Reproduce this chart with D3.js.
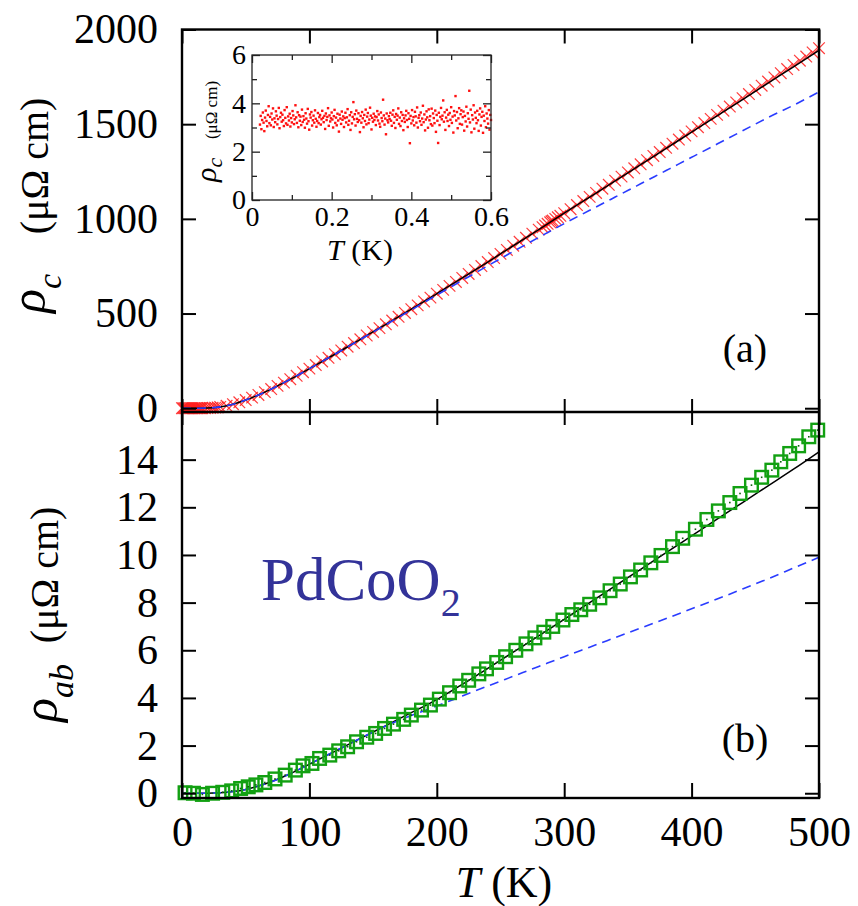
<!DOCTYPE html>
<html><head><meta charset="utf-8">
<script src="https://cdn.jsdelivr.net/npm/d3@7"></script>
<style>
body{margin:0;background:#fff}
svg{display:block;font-family:'Liberation Serif',serif}
svg text{font-family:'Liberation Serif',serif !important;fill:#000}
</style>
</head><body>
<svg id="c" width="858" height="906"></svg>
<script>
// ---------- data ----------
const xTicks = [0,100,200,300,400,500];
const yTicksA = [0,500,1000,1500,2000];
const yTicksB = [0,2,4,6,8,10,12,14];
const insetXTicks = [0,0.2,0.4,0.6];
const insetXMinor = [0.1,0.3,0.5];
const insetYTicks = [0,2,4,6];
const insetYMinor = [1,3,5];

// (a) rho_c data (red crosses)
const tempA = [0,1,2,3,4,5,6,7,8,9,10,11,12,13,14,15,16,18,20,22,24,26,28,30,35,40,45,50,55,60,65,70,75,80,85,90,95,100,105,110,115,120,125,130,135,140,145,150,155,160,165,170,175,180,185,190,195,200,205,210,215,220,225,230,235,240,245,250,255,260,265,270,275,280,283,285,287,289,290,291,293,295,297,300,305,310,315,320,325,330,335,340,345,350,355,360,365,370,375,380,385,390,395,400,405,410,415,420,425,430,435,440,445,450,455,460,465,470,475,480,485,490,495,500];
const rhoC = [0,0,0,0,0,0,0,0,0,0,0,0,0,0,0,0,0,0,1,1,2,3,4,7,13,21,31,43,56,70,85,101,118,135,153,171,190,209,228,247,266,285,305,325,344,364,384,403,423,443,463,483,503,523,543,564,584,605,625,646,667,688,709,730,751,772,793,815,836,858,879,900,922,943,956,965,974,982,987,991,1000,1008,1016,1030,1051,1073,1094,1116,1137,1159,1180,1202,1223,1245,1267,1288,1310,1332,1353,1375,1397,1419,1440,1462,1484,1506,1528,1549,1571,1593,1615,1637,1659,1681,1703,1725,1747,1769,1791,1813,1835,1857,1879,1901];
// (a) fits
const fitTempA = [0,10,20,30,40,50,60,70,80,90,100,120,140,160,180,200,220,240,260,280,300,320,340,360,380,400,420,440,460,480,500];
const fitBlackA = [0,0,1,7,21,43,70,101,135,171,209,285,364,443,523,605,688,772,858,943,1030,1115,1200,1286,1372,1458,1544,1630,1717,1803,1890];
const fitBlueA  = [0,0,1,7,21,43,70,101,135,171,209,285,363,441,519,598,675,752,828,902,975,1045,1115,1185,1255,1325,1395,1465,1535,1600,1670];

// (b) rho_ab data (green squares)
const tempB = [2.4,9,16,24,32,39,46,52,58,65,73,81,89,95,102,108,116,123,130,137,145,152,159,166,174,180,188,195,202,210,218,225,233,239,247,254,262,270,277,284,291,299,306,313,320,328,336,344,352,360,368,376,385,393,403,412,421,430,438,447,455,463,470,477,484,492,499];
const rhoAB = [0.02,0.0,-0.05,0.0,0.04,0.1,0.2,0.27,0.35,0.45,0.6,0.76,0.97,1.15,1.25,1.46,1.6,1.78,1.95,2.16,2.35,2.51,2.72,2.9,3.1,3.28,3.49,3.7,3.95,4.22,4.5,4.74,5.01,5.22,5.49,5.73,6.0,6.27,6.52,6.76,7.0,7.27,7.5,7.7,7.93,8.2,8.5,8.78,9.08,9.37,9.67,9.98,10.35,10.7,11.08,11.49,11.85,12.2,12.58,12.93,13.26,13.56,13.91,14.26,14.58,14.96,15.24];
// (b) fits
const fitTempB = [0,20,30,40,50,60,70,80,90,100,120,140,160,180,200,220,240,260,280,300,320,340,360,380,400,420,440,460,480,500];
const fitBlackB = [0,0,0.02,0.07,0.16,0.3,0.48,0.7,0.95,1.22,1.76,2.3,2.84,3.38,3.93,4.57,5.24,5.92,6.6,7.3,8.0,8.7,9.4,10.1,10.8,11.5,12.2,12.9,13.6,14.33];
const fitBlueB  = [0,0,0.02,0.07,0.16,0.3,0.48,0.7,0.95,1.22,1.76,2.3,2.82,3.26,3.66,4.08,4.5,4.91,5.32,5.73,6.13,6.53,6.93,7.33,7.74,8.15,8.57,9.0,9.45,9.9];

// inset: rho_c at low T (0.02 .. 0.6 K, evenly sampled)
const insetTStart = 0.02, insetTEnd = 0.6;
const insetRho = [
3.12,3.48,2.93,3.31,3.62,3.20,2.85,3.41,3.70,3.27,3.05,3.52,3.88,3.18,3.44,3.09,3.58,3.33,3.79,3.02,
3.38,3.22,3.67,3.49,3.13,3.35,3.81,2.97,3.43,3.61,3.24,3.53,3.30,3.06,3.72,3.40,3.17,3.84,3.11,3.46,
3.29,3.57,3.04,3.39,3.21,3.68,3.50,3.14,3.34,3.92,3.42,3.19,3.63,3.01,3.51,3.28,3.45,3.10,3.74,3.23,
3.47,3.32,2.99,3.59,3.37,3.16,3.77,3.26,2.91,3.54,3.41,3.64,3.08,3.30,3.49,3.20,3.71,3.36,3.03,3.27,
3.60,3.18,3.43,3.52,3.12,3.34,3.69,3.40,3.22,3.48,2.94,3.58,3.31,3.44,3.80,3.07,3.50,3.25,3.38,3.62,
3.33,3.00,3.47,3.73,3.19,3.41,3.09,3.57,3.29,2.83,3.53,3.37,3.15,3.66,3.32,3.46,3.02,3.39,3.61,3.21,
3.42,3.76,3.11,3.28,3.51,2.90,3.63,3.17,3.44,4.05,3.34,3.55,3.08,3.70,3.36,3.23,3.59,3.30,2.81,3.48,
3.20,3.64,3.38,3.01,3.52,3.27,3.74,3.13,3.45,3.60,3.18,3.33,3.82,3.49,2.92,3.40,3.24,3.57,3.31,3.46,
3.10,3.43,3.68,3.29,3.54,3.16,3.03,3.62,3.39,3.26,4.15,3.50,3.12,3.37,2.72,3.58,3.30,3.21,3.47,3.35,
3.61,3.28,3.07,3.53,3.71,3.19,3.44,2.98,3.56,3.32,3.49,3.79,3.15,3.41,3.06,3.63,3.27,3.52,2.89,3.38,
3.23,3.50,3.69,3.31,3.02,3.59,3.36,2.35,3.48,3.17,3.72,3.29,3.43,3.09,3.65,3.46,3.20,3.83,3.00,3.40,
3.51,3.26,3.62,3.11,3.37,3.90,3.22,3.54,2.88,3.33,3.67,3.42,2.99,3.75,3.30,3.47,3.14,3.78,3.08,3.58,
3.39,3.18,3.70,2.82,3.52,3.28,2.36,3.61,3.10,3.44,3.81,3.34,3.49,4.12,3.24,3.63,2.90,3.41,3.73,3.27,
3.53,3.06,3.60,3.32,3.84,3.19,3.45,2.79,3.68,3.50,4.30,3.29,3.64,2.97,3.38,3.80,3.15,3.55,3.71,3.12,
3.43,3.66,2.87,3.48,3.25,3.86,3.04,3.59,3.36,4.52,3.21,3.74,2.80,3.51,3.33,3.92,2.95,3.62,3.40,3.18,
3.69,3.30,2.86,3.54,3.79,3.08,3.44,3.65,2.78,3.49,3.27,3.88,3.01,3.58,3.37,3.16,3.72,2.91,3.52,3.31
];

// ---------- drawing ----------
const FONT = "'Liberation Serif', 'Times New Roman', serif";
const svg = d3.select("#c");
const x = d3.scaleLinear().domain([0,500]).range([182,819]);
const yA = d3.scaleLinear().domain([-20,2000]).range([412,29.5]);
const yB = d3.scaleLinear().domain([-0.2,16]).range([798,412]);

const RED = "#ff1a1a", GREEN = "#12a012", BLUE = "#2a3cff";

function styleAxis(g, fs){
  g.attr("font-family", null);
  g.select(".domain").remove();
  g.selectAll(".tick line").attr("stroke","#000").attr("stroke-width",2);
  g.selectAll(".tick text").style("font-size",fs+"px").style("fill","#000")
    .style("font-family",FONT);
}

const lineA = (arr)=> d3.line().x((d,i)=>x(fitTempA[i])).y(d=>yA(d)).curve(d3.curveMonotoneX)(arr);
const lineB = (arr)=> d3.line().x((d,i)=>x(fitTempB[i])).y(d=>yB(d)).curve(d3.curveMonotoneX)(arr);

// crosses (a)
const gA = svg.append("g");
gA.selectAll("path.cross").data(tempA).join("path")
  .attr("d",(t,i)=>{const cx=x(t), cy=yA(rhoC[i]), s=5.8;
    return `M${cx-s},${cy-s}L${cx+s},${cy+s}M${cx-s},${cy+s}L${cx+s},${cy-s}`;})
  .attr("stroke",RED).attr("stroke-width",1.2).attr("fill","none").attr("stroke-opacity",0.85);
gA.append("path").attr("d",lineA(fitBlackA)).attr("fill","none").attr("stroke","#000").attr("stroke-width",1.5);
gA.append("path").attr("d",lineA(fitBlueA)).attr("fill","none").attr("stroke",BLUE).attr("stroke-width",1.6).attr("stroke-dasharray","9,6");

// (b)
const gB = svg.append("g");
gB.append("path").attr("d",lineB(fitBlackB)).attr("fill","none").attr("stroke","#000").attr("stroke-width",1.5);
gB.append("path").attr("d",lineB(fitBlueB)).attr("fill","none").attr("stroke",BLUE).attr("stroke-width",1.6).attr("stroke-dasharray","9,6");
gB.selectAll("rect.sq").data(tempB).join("rect")
  .attr("x",t=>x(t)-6.3).attr("y",(t,i)=>yB(rhoAB[i])-6.3).attr("width",12.6).attr("height",12.6)
  .attr("fill","none").attr("stroke",GREEN).attr("stroke-width",2.4);
gB.selectAll("rect.dot").data(tempB).join("rect")
  .attr("x",t=>x(t)-0.8).attr("y",(t,i)=>yB(rhoAB[i])-0.8).attr("width",1.6).attr("height",1.6)
  .attr("fill","#0a600a");

// frame
svg.append("rect").attr("x",182).attr("y",29.5).attr("width",637).attr("height",768.5)
  .attr("fill","none").attr("stroke","#000").attr("stroke-width",2.4);
svg.append("line").attr("x1",182).attr("x2",819).attr("y1",412).attr("y2",412)
  .attr("stroke","#000").attr("stroke-width",2.4);

// axes (a)
svg.append("g").attr("transform","translate(182,0)")
  .call(d3.axisLeft(yA).tickValues(yTicksA).tickSize(-14).tickPadding(24).tickFormat(d3.format("d")))
  .call(g=>styleAxis(g,42));
svg.append("g").attr("transform","translate(819,0)")
  .call(d3.axisRight(yA).tickValues(yTicksA).tickSize(-14).tickFormat(""))
  .call(g=>styleAxis(g,42));
svg.append("g").attr("transform","translate(0,29.5)")
  .call(d3.axisTop(x).tickValues(xTicks).tickSize(-14).tickFormat(""))
  .call(g=>styleAxis(g,42));
svg.append("g").attr("transform","translate(0,412)")
  .call(d3.axisBottom(x).tickValues(xTicks).tickSize(-13).tickFormat(""))
  .call(g=>styleAxis(g,42));
// axes (b)
svg.append("g").attr("transform","translate(182,0)")
  .call(d3.axisLeft(yB).tickValues(yTicksB).tickSize(-14).tickPadding(24).tickFormat(d3.format("d")))
  .call(g=>styleAxis(g,42));
svg.append("g").attr("transform","translate(819,0)")
  .call(d3.axisRight(yB).tickValues(yTicksB).tickSize(-14).tickFormat(""))
  .call(g=>styleAxis(g,42));
svg.append("g").attr("transform","translate(0,412)")
  .call(d3.axisTop(x).tickValues(xTicks).tickSize(-13).tickFormat(""))
  .call(g=>styleAxis(g,42));
svg.append("g").attr("transform","translate(0,798)")
  .call(d3.axisBottom(x).tickValues(xTicks).tickSize(-15).tickPadding(18).tickFormat(d3.format("d")))
  .call(g=>styleAxis(g,42));

function txt(parent){ return parent.append("text").style("font-family",FONT).style("fill","#000"); }

// main axis titles
txt(svg).attr("x",504).attr("y",897).attr("text-anchor","middle").style("font-size","44px")
  .html('<tspan font-style="italic">T</tspan> (K)');
const ya = svg.append("g").attr("transform","rotate(-90)");
txt(ya).attr("x",-313).attr("y",45).style("font-size","50px")
  .html('<tspan font-style="italic">ρ</tspan><tspan font-style="italic" style="font-size:34px" dy="16">c</tspan>');
txt(ya).attr("x",-166).attr("y",48).attr("text-anchor","middle").style("font-size","40px").text("(μΩ cm)");
txt(ya).attr("x",-722).attr("y",57).style("font-size","50px")
  .html('<tspan font-style="italic">ρ</tspan><tspan font-style="italic" style="font-size:34px" dy="16">ab</tspan>');
txt(ya).attr("x",-575).attr("y",58).attr("text-anchor","middle").style("font-size","40px").text("(μΩ cm)");

// panel labels
txt(svg).attr("x",745).attr("y",362).attr("text-anchor","middle").style("font-size","40px").text("(a)");
txt(svg).attr("x",745).attr("y",752).attr("text-anchor","middle").style("font-size","40px").text("(b)");
// compound label
svg.append("text").attr("x",261).attr("y",600).style("font-size","61px").style("font-family",FONT)
  .style("fill","#333399")
  .html('PdCoO<tspan style="font-size:40px" dy="16">2</tspan>');
svg.selectAll("text").filter(function(){return this.textContent.startsWith("PdCoO");}).attr("style",null)
  .attr("font-size",61).attr("font-family","Liberation Serif").attr("fill","#333399").style("fill","#333399");

// ---------- inset ----------
const ix = d3.scaleLinear().domain([0,0.6]).range([252,491]);
const iy = d3.scaleLinear().domain([0,6]).range([200,55]);
const insetT = insetRho.map((d,i)=> insetTStart + i*(insetTEnd-insetTStart)/(insetRho.length-1));
const gi = svg.append("g");
gi.append("rect").attr("x",252).attr("y",55).attr("width",239).attr("height",145).attr("fill","#fff");
gi.selectAll("rect.pt").data(insetRho).join("rect")
  .attr("x",(d,i)=>ix(insetT[i])-1.2).attr("y",d=>iy(d)-1.2).attr("width",2.4).attr("height",2.4)
  .attr("fill","#ff1010");
gi.append("rect").attr("x",252).attr("y",55).attr("width",239).attr("height",145)
  .attr("fill","none").attr("stroke","#222").attr("stroke-width",1.3);
function inAxis(axis, tr, major, minor, labels){
  const g1 = gi.append("g").attr("transform",tr).call(axis.tickValues(major).tickSize(-8).tickPadding(labels?6:0).tickFormat(labels?labels:""));
  g1.select(".domain").remove();
  g1.selectAll(".tick line").attr("stroke","#222").attr("stroke-width",1.3);
  g1.selectAll(".tick text").style("font-size","28px").style("font-family",FONT).style("fill","#000");
  const g2 = gi.append("g").attr("transform",tr).call(axis.tickValues(minor).tickSize(-5).tickFormat(""));
  g2.select(".domain").remove();
  g2.selectAll(".tick line").attr("stroke","#222").attr("stroke-width",1.3);
}
inAxis(d3.axisBottom(ix),"translate(0,200)",insetXTicks,insetXMinor,d=>d===0?"0":d3.format(".1f")(d));
inAxis(d3.axisTop(ix),"translate(0,55)",insetXTicks,insetXMinor,null);
inAxis(d3.axisLeft(iy),"translate(252,0)",insetYTicks,insetYMinor,d3.format("d"));
inAxis(d3.axisRight(iy),"translate(491,0)",insetYTicks,insetYMinor,null);
txt(gi).attr("x",360).attr("y",260).attr("text-anchor","middle").style("font-size","30px")
  .html('<tspan font-style="italic">T</tspan> (K)');
const gir = gi.append("g").attr("transform","rotate(-90)");
txt(gir).attr("x",-182).attr("y",216).style("font-size","30px")
  .html('<tspan font-style="italic">ρ</tspan><tspan font-style="italic" style="font-size:22px" dy="6">c</tspan>');
txt(gir).attr("x",-110).attr("y",217).attr("text-anchor","middle").style("font-size","17px").text("(μΩ cm)");
</script>
</body></html>
